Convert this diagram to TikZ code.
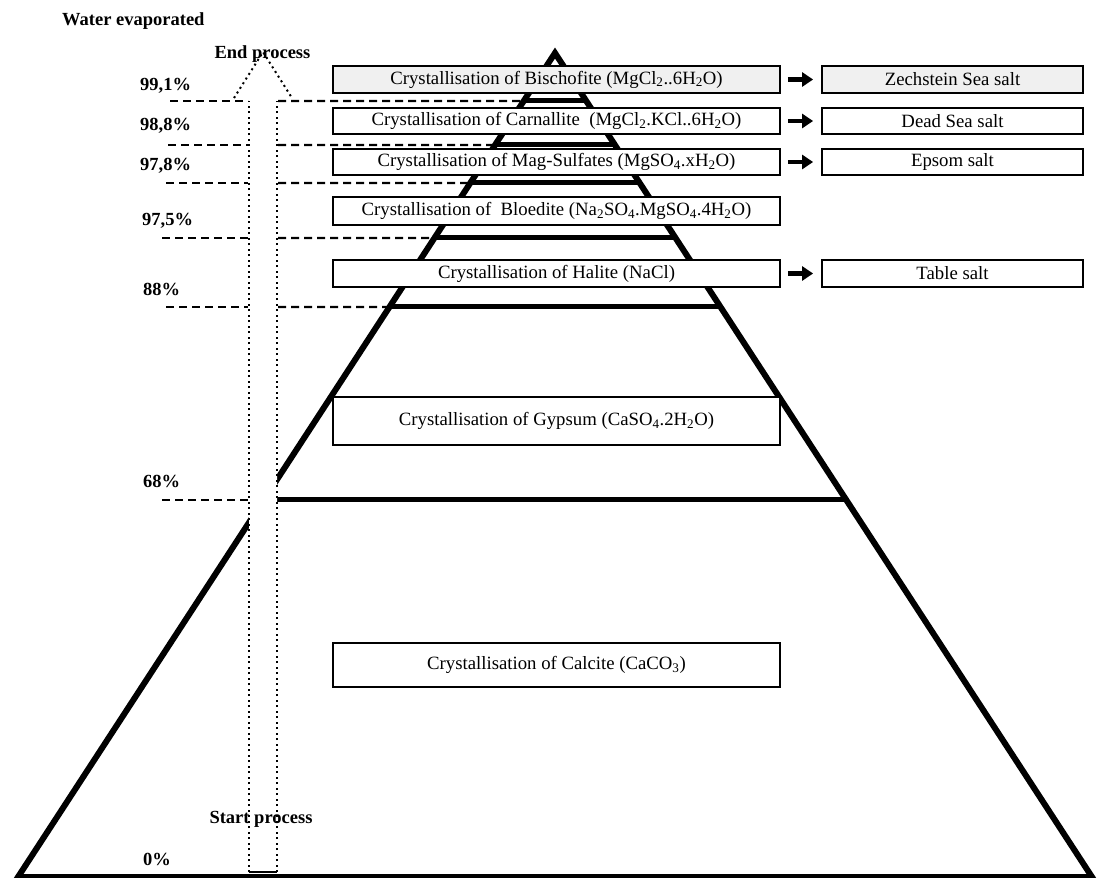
\documentclass[tikz,border=0pt]{standalone}
\usepackage{fontspec}
\setmainfont{Liberation Serif}
\usetikzlibrary{calc,arrows.meta}
\definecolor{lgray}{gray}{0.94}
\tikzset{
  pyr/.style={line width=6pt, line join=miter},
  layerline/.style={line width=5pt},
  lvl/.style={dash pattern=on 8pt off 5pt, line width=2.2pt},
  dotline/.style={dash pattern=on 2pt off 3.5pt, line width=2pt},
  boxbase/.style={draw, line width=1.8pt, fill=white, inner sep=0pt, font=\fontsize{18.75}{22}\selectfont},
  lbox/.style={boxbase, minimum width=447pt},
  rbox/.style={boxbase, minimum width=261pt},
  pct/.style={anchor=base west, inner sep=0pt, font=\fontsize{18.5}{22}\selectfont\bfseries},
  plab/.style={anchor=base, inner sep=0pt, font=\fontsize{18.5}{22}\selectfont\bfseries},
  outarrow/.style={-{Triangle[length=11pt,width=14pt]}, line width=4.5pt}
}
\begin{document}
\begin{tikzpicture}[x=1pt,y=-1pt]
\useasboundingbox (0,0) rectangle (1101,878);
% pyramid
\coordinate (apex) at (555,53);
\coordinate (bl) at (18,877);
\coordinate (br) at (1092,877);
\draw[pyr] (bl) -- (apex) -- (br) -- cycle;
\foreach \yy in {101,145,183,238,307,500} {
  \pgfmathsetmacro\tpos{(\yy-53)/824}
  \draw[layerline] ($(apex)!\tpos!(bl)$) -- ($(apex)!\tpos!(br)$);
}
% big arrow
\fill[white] (249,872) -- (249,101) -- (232,101) -- (263,52) -- (294,101) -- (277,101) -- (277,872) -- cycle;
\draw[dotline] (249,872) -- (249,101);
\draw[dotline] (277,872) -- (277,101);
\draw[dotline] (234,98) -- (263,52) -- (292,98);
\draw[line width=2pt] (249,872) -- (277,872);
% dashed level lines
\foreach \yy/\xs in {101/170,145/168,183/166,238/162,307/166,500/162} {
  \draw[lvl] (\xs,\yy) -- (248,\yy);
}
\foreach \yy in {101,145,183,238,307} {
  \pgfmathsetmacro\tpos{(\yy-53)/824}
  \draw[lvl] (278,\yy) -- ($(apex)!\tpos!(bl)$);
}
% boxes
\node[lbox, fill=lgray, minimum height=27pt] (bis) at (556.5,79.5) {Crystallisation of Bischofite (MgCl\textsubscript{2}..6H\textsubscript{2}O)};
\node[lbox, minimum height=26pt] (car) at (556.5,121) {Crystallisation of Carnallite~ (MgCl\textsubscript{2}.KCl..6H\textsubscript{2}O)};
\node[lbox, minimum height=26pt] (mag) at (556.5,162) {Crystallisation of Mag-Sulfates (MgSO\textsubscript{4}.xH\textsubscript{2}O)};
\node[lbox, minimum height=28pt] (blo) at (556.5,211) {Crystallisation of~ Bloedite (Na\textsubscript{2}SO\textsubscript{4}.MgSO\textsubscript{4}.4H\textsubscript{2}O)};
\node[lbox, minimum height=27pt] (hal) at (556.5,273.5) {Crystallisation of Halite (NaCl)};
\node[lbox, minimum height=48pt] (gyp) at (556.5,421) {Crystallisation of Gypsum (CaSO\textsubscript{4}.2H\textsubscript{2}O)};
\node[lbox, minimum height=44pt] (cal) at (556.5,665) {Crystallisation of Calcite (CaCO\textsubscript{3})};
\node[rbox, fill=lgray, minimum height=27pt] (zech) at (952.5,79.5) {Zechstein Sea salt};
\node[rbox, minimum height=26pt] (dead) at (952.5,121) {Dead Sea salt};
\node[rbox, minimum height=26pt] (eps) at (952.5,162) {Epsom salt};
\node[rbox, minimum height=27pt] (tab) at (952.5,273.5) {Table salt};
\draw[outarrow] ($(bis.east)+(7,0)$) -- ($(zech.west)+(-8,0)$);
\draw[outarrow] ($(car.east)+(7,0)$) -- ($(dead.west)+(-8,0)$);
\draw[outarrow] ($(mag.east)+(7,0)$) -- ($(eps.west)+(-8,0)$);
\draw[outarrow] ($(hal.east)+(7,0)$) -- ($(tab.west)+(-8,0)$);
% labels
\node[pct] (title) at (62,25) {Water evaporated};
\node[pct] (p991) at (140,90) {99,1\%};
\node[pct] (p988) at (140,130) {98,8\%};
\node[pct] (p978) at (140,170) {97,8\%};
\node[pct] (p975) at (142,225) {97,5\%};
\node[pct] (p88) at (143,295) {88\%};
\node[pct] (p68) at (143,487) {68\%};
\node[pct] (p0) at (143,865) {0\%};
\node[plab] (endp) at (262.5,58) {End process};
\node[plab] (startp) at (261,823) {Start process};
\end{tikzpicture}
\end{document}
